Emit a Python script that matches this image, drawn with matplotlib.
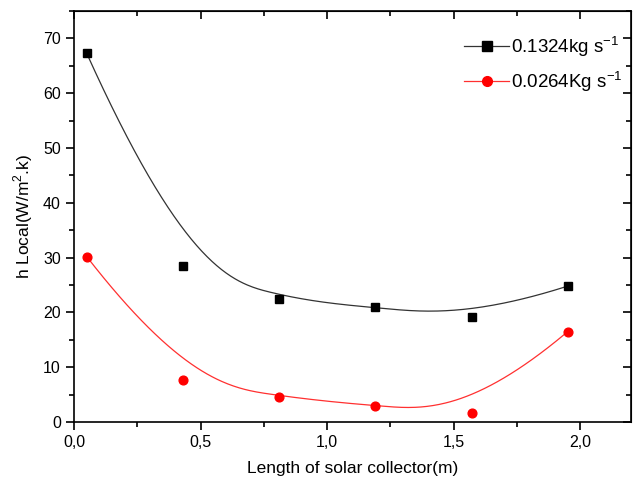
import numpy as np
import matplotlib
matplotlib.use('Agg')
import matplotlib.pyplot as plt
from matplotlib.ticker import MultipleLocator, FuncFormatter

plt.rcParams['font.family'] = ['Liberation Sans', 'DejaVu Sans']
plt.rcParams['mathtext.fontset'] = 'custom'
plt.rcParams['mathtext.rm'] = 'Liberation Sans'

# data
length = [0.05, 0.43, 0.81, 1.19, 1.57, 1.95]
h_high = [67.3, 28.4, 22.4, 20.9, 19.2, 24.8]   # 0.1324 kg/s
h_low = [30.2, 7.6, 4.6, 2.9, 1.7, 16.5]        # 0.0264 kg/s


def bspline(px, py, n=300, k=3):
    # clamped B-spline with the points as control points (like Origin's B-spline)
    px = np.asarray(px, float)
    py = np.asarray(py, float)
    m = len(px)
    inner = np.linspace(0, 1, m - k + 1)
    t = np.concatenate([np.zeros(k), inner, np.ones(k)])
    u = np.linspace(0, 1, n)
    u[-1] = 1 - 1e-12
    # Cox-de Boor
    B = np.zeros((n, len(t) - 1))
    for i in range(len(t) - 1):
        B[:, i] = (u >= t[i]) & (u < t[i + 1])
    for d in range(1, k + 1):
        Bn = np.zeros((n, len(t) - 1 - d))
        for i in range(len(t) - 1 - d):
            a = 0.0
            b = 0.0
            if t[i + d] > t[i]:
                a = (u - t[i]) / (t[i + d] - t[i]) * B[:, i]
            if t[i + d + 1] > t[i + 1]:
                b = (t[i + d + 1] - u) / (t[i + d + 1] - t[i + 1]) * B[:, i + 1]
            Bn[:, i] = a + b
        B = Bn
    return B @ px, B @ py


fig = plt.figure(figsize=(6.39, 4.88), dpi=100)
ax = fig.add_axes([0.1158, 0.1352, 0.9875 - 0.1158, 0.9775 - 0.1352])

cx, cy = bspline(length, h_high)
ax.plot(cx, cy, color='#333333', lw=0.9)
ax.plot(length, h_high, 's', color='black', ms=5.8, ls='none')
cx, cy = bspline(length, h_low)
ax.plot(cx, cy, color='#ff3030', lw=0.9)
ax.plot(length, h_low, 'o', color='#ff0000', ms=6.3, ls='none')

# legend handles
ax.plot([], [], '-s', color='#333333', mfc='black', mec='black', ms=6.5, lw=0.9,
        label='0.1324kg s$^{-1}$')
ax.plot([], [], '-o', color='#ff3030', mfc='#ff0000', mec='#ff0000', ms=7, lw=0.9,
        label='0.0264Kg s$^{-1}$')
h, l = ax.get_legend_handles_labels()
ax.legend(h[-2:], l[-2:], loc='upper right', bbox_to_anchor=(1.015, 0.985),
          frameon=False, fontsize=13.5, handlelength=2.4, handletextpad=0.1,
          labelspacing=0.55)

ax.set_xlim(0, 2.2)
ax.set_ylim(0, 75)
ax.xaxis.set_major_locator(MultipleLocator(0.5))
ax.xaxis.set_minor_locator(MultipleLocator(0.25))
ax.yaxis.set_major_locator(MultipleLocator(10))
ax.yaxis.set_minor_locator(MultipleLocator(5))
ax.xaxis.set_major_formatter(FuncFormatter(lambda v, p: ('%.1f' % v).replace('.', ',')))

ax.tick_params(which='both', direction='out', labelsize=11.5, width=1.2)
ax.tick_params(which='major', length=6)
ax.tick_params(which='minor', length=3.5)
for s in ax.spines.values():
    s.set_linewidth(1.2)

# inward ticks on top and right like Origin
axt = ax.secondary_xaxis('top')
axt.xaxis.set_major_locator(MultipleLocator(0.5))
axt.xaxis.set_minor_locator(MultipleLocator(0.25))
axt.tick_params(which='both', direction='in', labeltop=False, width=1.2)
axt.tick_params(which='major', length=6)
axt.tick_params(which='minor', length=3.5)
axr = ax.secondary_yaxis('right')
axr.yaxis.set_major_locator(MultipleLocator(10))
axr.yaxis.set_minor_locator(MultipleLocator(5))
axr.tick_params(which='both', direction='in', labelright=False, width=1.2)
axr.tick_params(which='major', length=6)
axr.tick_params(which='minor', length=3.5)

ax.set_xlabel('Length of solar collector(m)', fontsize=12.5, labelpad=8)
ax.set_ylabel('h Local(W/m$^2$.k)', fontsize=12.5, labelpad=6)

fig.savefig('out.png', dpi=100)
